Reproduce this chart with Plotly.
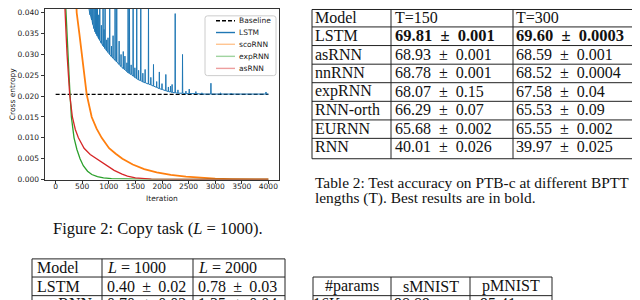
import plotly.graph_objects as go

W, H = 640, 300
SERIF = "Liberation Serif"
SANS = "DejaVu Sans"

# ---------------- Figure 2 data: copy task (L = 1000) ----------------
baseline_iter = [0, 4000]
baseline_ce = [0.0204, 0.0204]

scornn_iter = [300, 360, 396, 446, 490, 540, 584, 678, 770, 866, 1005, 1130, 1256, 1450,
               1665, 1900, 2166, 2450, 2700, 3000, 3300, 3700, 4000]
scornn_ce = [0.070, 0.049, 0.040, 0.035, 0.030, 0.025, 0.0204, 0.015, 0.0122, 0.010, 0.0075,
             0.0062, 0.0050, 0.0036, 0.0025, 0.0017, 0.0011, 0.0007, 0.0004, 0.0002, 0.0001,
             0.00005, 0.00003]

exprnn_iter = [120, 170, 188, 207, 233, 252, 271, 296, 346, 400, 459, 520, 600, 680, 786,
               900, 1050, 1300, 1800, 2500, 4000]
exprnn_ce = [0.060, 0.0455, 0.040, 0.035, 0.030, 0.025, 0.0204, 0.015, 0.010, 0.0072, 0.0050,
             0.0033, 0.0020, 0.0012, 0.0007, 0.0004, 0.0002, 0.0001, 0.00005, 0.00003, 0.00002]

asrnn_iter = [110, 150, 170, 196, 215, 239, 264, 315, 370, 428, 535, 650, 770, 880, 973,
              1100, 1250, 1350, 1500, 1800, 2300, 4000]
asrnn_ce = [0.060, 0.047, 0.040, 0.035, 0.030, 0.025, 0.0204, 0.015, 0.012, 0.010, 0.0075,
            0.0060, 0.0050, 0.0040, 0.0033, 0.0022, 0.0013, 0.0008, 0.0004, 0.0001, 0.00004,
            0.00002]

# LSTM: noisy curve -- read as (iteration, local floor, spike peak)
lstm_start_iter = [450, 600]
lstm_start_ce = [0.060, 0.0430]
lstm_spike_iter = [650, 680, 700, 723, 745, 765, 785, 810, 830, 860, 892, 910, 930, 960, 985,
                   1017, 1050, 1080, 1118, 1149, 1194, 1230, 1272, 1303, 1340, 1363, 1388, 1420,
                   1457, 1490, 1525, 1560, 1601, 1640, 1683, 1746, 1790, 1840, 1900, 1950, 2000,
                   2072, 2120, 2160, 2190, 2248, 2300, 2386, 2450, 2512, 2637, 2750, 2920, 3100,
                   3300, 3955]
lstm_spike_base = [0.0395, 0.0383, 0.0372, 0.0362, 0.0354, 0.0349, 0.0344, 0.0338, 0.0334,
                   0.0327, 0.0321, 0.0318, 0.0314, 0.0309, 0.0305, 0.0300, 0.0295, 0.0291,
                   0.0286, 0.0282, 0.0276, 0.0271, 0.0266, 0.0263, 0.0259, 0.0256, 0.0254,
                   0.0252, 0.0248, 0.0245, 0.0242, 0.0239, 0.0237, 0.0234, 0.0232, 0.0229,
                   0.0227, 0.0224, 0.0221, 0.0218, 0.0216, 0.0213, 0.0211, 0.0210, 0.0209,
                   0.0208, 0.0207, 0.0207, 0.0206, 0.0206, 0.0206, 0.0205, 0.0205, 0.0205,
                   0.0205, 0.0205]
lstm_spike_peak = [0.045, 0.045, 0.045, 0.045, 0.045, 0.045, 0.045, 0.0395, 0.045, 0.0370,
                   0.045, 0.0360, 0.045, 0.0335, 0.0340, 0.045, 0.0320, 0.0345, 0.045, 0.045,
                   0.0332, 0.0300, 0.0307, 0.0296, 0.0280, 0.045, 0.045, 0.0275, 0.045, 0.0268,
                   0.045, 0.0262, 0.045, 0.0255, 0.0264, 0.045, 0.0245, 0.0276, 0.0235, 0.0258,
                   0.0230, 0.0252, 0.0222, 0.0224, 0.0228, 0.0398, 0.0215, 0.0300, 0.0212,
                   0.0217, 0.0211, 0.0208, 0.0231, 0.0208, 0.0207, 0.0210]
lstm_end_iter = [4000]
lstm_end_ce = [0.0205]

x_ticks = [0, 500, 1000, 1500, 2000, 2500, 3000, 3500, 4000]
y_ticks = [0.000, 0.005, 0.010, 0.015, 0.020, 0.025, 0.030, 0.035, 0.040]

legend_names = ["Baseline", "LSTM", "scoRNN", "expRNN", "asRNN"]

# ---------------- Table 2 (PTB-c) ----------------
t2_header = ["Model", "T=150", "T=300"]
t2_models = ["LSTM", "asRNN", "nnRNN", "expRNN", "RNN-orth", "EURNN", "RNN"]
t2_t150 = ["69.81 ± 0.001", "68.93 ± 0.001", "68.78 ± 0.001", "68.07 ± 0.15",
           "66.29 ± 0.07", "65.68 ± 0.002", "40.01 ± 0.026"]
t2_t300 = ["69.60 ± 0.0003", "68.59 ± 0.001", "68.52 ± 0.0004", "67.58 ± 0.04",
           "65.53 ± 0.09", "65.55 ± 0.002", "39.97 ± 0.025"]
t2_caption = ["Table 2: Test accuracy on PTB-c at different BPTT",
              "lengths (T). Best results are in bold."]

# ---------------- Table 1 (copy task) ----------------
t1_header = ["Model", "<i>L</i> = 1000", "<i>L</i> = 2000"]
t1_rows = [["LSTM", "0.40 ± 0.02", "0.78 ± 0.03"],
           ["scoRNN", "0.70 ± 0.02", "1.35 ± 0.04"]]
fig_caption = "Figure 2: Copy task (<i>L</i> = 1000)."

# ---------------- Table 3 (MNIST) ----------------
t3_header = ["#params", "sMNIST", "pMNIST"]
t3_row = ["16K", "98.89", "95.41"]

# ====================================================================
lstm_x = list(lstm_start_iter)
lstm_y = list(lstm_start_ce)
for it, b, p in zip(lstm_spike_iter, lstm_spike_base, lstm_spike_peak):
    lstm_x += [it - 4, it, it + 4]
    lstm_y += [b, p, b]
lstm_x += lstm_end_iter
lstm_y += lstm_end_ce

C_BLUE, C_ORANGE, C_GREEN, C_RED = "#1f77b4", "#ff7f0e", "#2ca02c", "#d62728"
DASH = "4px,2px"

fig = go.Figure()
fig.add_trace(go.Scatter(x=baseline_iter, y=baseline_ce, mode="lines",
                         line=dict(color="black", width=1.2, dash=DASH)))
fig.add_trace(go.Scatter(x=lstm_x, y=lstm_y, mode="lines", line=dict(color=C_BLUE, width=1)))
fig.add_trace(go.Scatter(x=scornn_iter, y=scornn_ce, mode="lines",
                         line=dict(color=C_ORANGE, width=1.8)))
fig.add_trace(go.Scatter(x=exprnn_iter, y=exprnn_ce, mode="lines",
                         line=dict(color=C_GREEN, width=1.3)))
fig.add_trace(go.Scatter(x=asrnn_iter, y=asrnn_ce, mode="lines",
                         line=dict(color=C_RED, width=1.3)))


def px(x):
    return x / W


def py(y):
    return 1 - y / H


shapes = []
annos = []


def line(x0, y0, x1, y1, color="#222", width=1, dash=None):
    d = dict(color=color, width=width)
    if dash:
        d["dash"] = dash
    shapes.append(dict(type="line", xref="paper", yref="paper", x0=px(x0), y0=py(y0),
                       x1=px(x1), y1=py(y1), line=d))


def text(x, y, s, size, anchor="left", family=SERIF, color="#111", angle=0):
    annos.append(dict(xref="paper", yref="paper", x=px(x), y=py(y), text=s, showarrow=False,
                      xanchor=anchor, yanchor="middle", textangle=angle, borderpad=0,
                      borderwidth=0, font=dict(family=family, size=size, color=color)))


def fmt_pm(s):
    return s.replace(" ± ", "\u2002±\u2002")


# ---- manual legend (matplotlib style) ----
lx0, ly0, lx1, ly1, r = 197, 7, 268, 68, 2.5
path = (f"M{px(lx0 + r)},{py(ly0)} L{px(lx1 - r)},{py(ly0)} Q{px(lx1)},{py(ly0)} {px(lx1)},{py(ly0 + r)} "
        f"L{px(lx1)},{py(ly1 - r)} Q{px(lx1)},{py(ly1)} {px(lx1 - r)},{py(ly1)} "
        f"L{px(lx0 + r)},{py(ly1)} Q{px(lx0)},{py(ly1)} {px(lx0)},{py(ly1 - r)} "
        f"L{px(lx0)},{py(ly0 + r)} Q{px(lx0)},{py(ly0)} {px(lx0 + r)},{py(ly0)} Z")
shapes.append(dict(type="path", xref="paper", yref="paper", path=path,
                   fillcolor="rgba(255,255,255,0.85)", line=dict(color="#cccccc", width=1)))
leg_colors = ["black", C_BLUE, "rgba(255,127,14,0.45)", "rgba(44,160,44,0.45)",
              "rgba(214,39,40,0.45)"]
leg_y = [12, 24, 36, 48.3, 60.6]
for name, col, yy in zip(legend_names, leg_colors, leg_y):
    line(208, yy, 227, yy, color=col, width=1.4, dash=DASH if name == "Baseline" else None)
    text(231, yy, name, 7.5, family=SANS, color="#222")

# axis titles
text(4, 87, "Cross entropy", 7.5, anchor="center", family=SANS, color="#222", angle=-90)
text(154, 193.5, "Iteration", 7.5, anchor="center", family=SANS, color="#222")

# ---- Table 2 ----
t2_cols = [304, 383, 505, 634]
t2_lines = [0.5, 18.3, 37.3, 56.3, 75.2, 94.2, 113.2, 132.0, 152.8]
for yy in t2_lines:
    line(t2_cols[0], yy, t2_cols[-1], yy)
for xx in t2_cols:
    line(xx, t2_lines[0], xx, t2_lines[-1])
t2_left = [307, 387, 508]
t2_rows_y = [8.5 + 18.85 * i for i in range(8)]
for j, h in enumerate(t2_header):
    text(t2_left[j], t2_rows_y[0], h, 16)
for i, m in enumerate(t2_models):
    yy = t2_rows_y[i + 1]
    text(t2_left[0], yy, m, 16)
    if i == 0:
        text(t2_left[1], yy, "<b>" + fmt_pm(t2_t150[i]) + "</b>", 16.5)
        text(t2_left[2], yy, "<b>" + fmt_pm(t2_t300[i]) + "</b>", 16.5)
    else:
        text(t2_left[1], yy, fmt_pm(t2_t150[i]), 16)
        text(t2_left[2], yy, fmt_pm(t2_t300[i]), 16)
text(307, 177.5, t2_caption[0], 15.4)
text(307, 192.5, t2_caption[1], 15.4)

# ---- Figure caption ----
text(150, 224, fig_caption, 16.5, anchor="center")

# ---- Table 1 ----
t1_cols = [24, 94, 185, 277]
t1_lines = [255, 273.5, 292.5]
for yy in t1_lines:
    line(t1_cols[0], yy, t1_cols[-1], yy)
for xx in t1_cols:
    line(xx, t1_lines[0], xx, 320)
t1_left = [29, 99, 190]
t1_rows_y = [263.5, 283, 300.5]
for j, h in enumerate(t1_header):
    text(t1_left[j], t1_rows_y[0], h, 16)
for i, row in enumerate(t1_rows):
    for j, c in enumerate(row):
        text(t1_left[j], t1_rows_y[i + 1], c.replace(" ± ", " \u2009±\u2009 "), 16)

# ---- Table 3 ----
t3_cols = [305, 383, 462, 544]
t3_lines = [273.5, 292.5]
for yy in t3_lines:
    line(t3_cols[0], yy, t3_cols[-1], yy)
for xx in t3_cols:
    line(xx, t3_lines[0], xx, 320)
t3_hx = [344, 422.5, 503]
for j, h in enumerate(t3_header):
    text(t3_hx[j], 283, h, 16, anchor="center")
t3_rx = [319, 404, 490]
for j, c in enumerate(t3_row):
    text(t3_rx[j], 300.5, c, 16, anchor="center")

axis_common = dict(showgrid=False, zeroline=False, showline=True, mirror=True,
                   linecolor="#333", linewidth=1, ticks="outside", ticklen=3.5, tickwidth=1,
                   tickcolor="#333", tickfont=dict(family=SANS, size=7.5, color="#222"))

fig.update_layout(
    width=W, height=H, autosize=False,
    margin=dict(l=0, r=0, t=0, b=0),
    paper_bgcolor="white", plot_bgcolor="white",
    showlegend=False,
    xaxis=dict(domain=[37 / W, 271 / W], range=[-200, 4200], tickvals=x_ticks,
               ticktext=[str(v) for v in x_ticks], ticklabelstandoff=-4, **axis_common),
    yaxis=dict(domain=[1 - 174 / H, 1], range=[0, 0.0409], tickvals=y_ticks,
               ticktext=[f"{v:.3f}" for v in y_ticks], **axis_common),
    shapes=shapes,
    annotations=annos,
)

fig.write_html("out.html")
